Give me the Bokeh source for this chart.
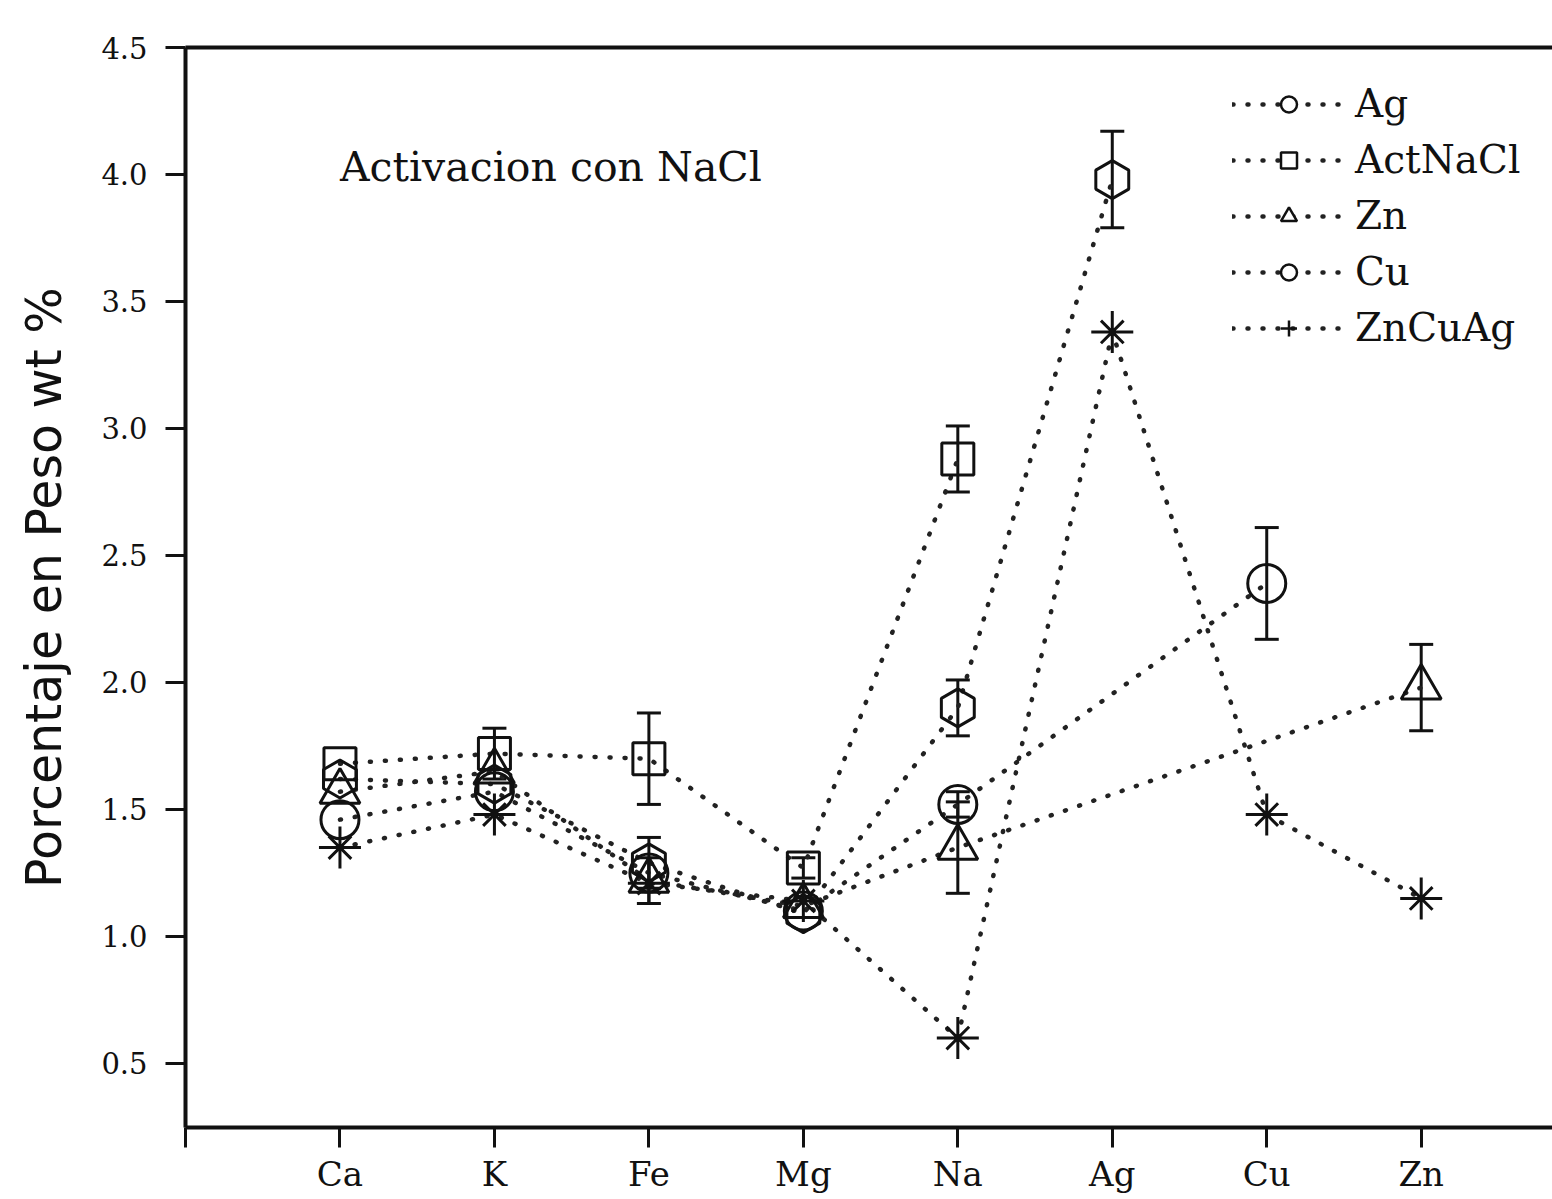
import math

from bokeh.plotting import figure
from bokeh.models import (ColumnDataSource, Whisker, TeeHead, Legend, LegendItem,
                          Label, LinearAxis, FixedTicker, Range1d, NumeralTickFormatter)
from bokeh.embed import file_html
from bokeh.resources import INLINE

elements = ["Ca", "K", "Fe", "Mg", "Na", "Ag", "Cu", "Zn"]

# Porcentaje en peso (wt %) per sample; None = element not reported
ag      = [1.62, 1.60, 1.29, 1.09, 1.90, 3.98, None, None]
actnacl = [1.68, 1.72, 1.70, 1.27, 2.88, None, None, None]
zn      = [1.57, 1.65, 1.22, 1.12, 1.35, None, None, 1.98]
cu      = [1.46, 1.57, 1.25, 1.10, 1.52, None, 2.39, None]
zncuag  = [1.35, 1.48, 1.21, 1.14, 0.60, 3.38, 1.48, 1.15]

# standard deviation (0 = no error bar)
ag_err      = [0, 0, 0.10, 0, 0.11, 0.19, 0, 0]
actnacl_err = [0, 0.10, 0.18, 0.04, 0.13, 0, 0, 0]
zn_err      = [0, 0, 0.09, 0, 0.18, 0, 0, 0.17]
cu_err      = [0, 0, 0, 0, 0.05, 0, 0.22, 0]
zncuag_err  = [0, 0, 0, 0, 0, 0, 0, 0]

series = [
    ("Ag", ag, ag_err, "hex", "circle"),
    ("ActNaCl", actnacl, actnacl_err, "square", "square"),
    ("Zn", zn, zn_err, "triangle", "triangle"),
    ("Cu", cu, cu_err, "circle", "circle"),
    ("ZnCuAg", zncuag, zncuag_err, "asterisk", "cross"),
]

y_ticks = [0.5, 1.0, 1.5, 2.0, 2.5, 3.0, 3.5, 4.0, 4.5]

SERIF = "DejaVu Serif"
INK = "#111111"

p = figure(width=1552, height=1199,
           x_range=Range1d(0, 8.85), y_range=Range1d(0.248, 4.5),
           output_backend="svg", toolbar_location=None,
           min_border_left=185, min_border_right=0,
           min_border_top=47, min_border_bottom=72)
p.grid.visible = False
p.outline_line_color = None
p.background_fill_color = "white"
p.border_fill_color = "white"

# x axis: one tick per element, plus the origin tick
xpos = list(range(len(elements) + 1))
xa = p.xaxis[0]
xa.ticker = FixedTicker(ticks=xpos)
xa.major_label_overrides = {0: ""} | {i + 1: e for i, e in enumerate(elements)}
xa.major_label_text_font = SERIF
xa.major_label_text_font_size = "34px"
xa.major_label_text_color = INK
xa.major_label_standoff = 6
xa.major_tick_out = 20
xa.major_tick_in = 0
xa.major_tick_line_width = 3
xa.minor_tick_line_color = None
xa.axis_line_width = 4
xa.axis_line_color = INK
xa.major_tick_line_color = INK

ya = p.yaxis[0]
ya.ticker = FixedTicker(ticks=y_ticks)
ya.formatter = NumeralTickFormatter(format="0.0")
ya.major_label_text_font = SERIF
ya.major_label_text_font_size = "29px"
ya.major_label_text_color = INK
ya.major_label_standoff = 18
ya.major_tick_out = 20
ya.major_tick_in = 0
ya.major_tick_line_width = 3
ya.minor_tick_line_color = None
ya.axis_line_width = 4
ya.axis_line_color = INK
ya.major_tick_line_color = INK
ya.axis_label = "Porcentaje en Peso wt %"
ya.axis_label_text_font = "DejaVu Sans"
ya.axis_label_text_font_style = "normal"
ya.axis_label_text_font_size = "49px"
ya.axis_label_text_color = INK
ya.axis_label_standoff = 25

# top frame edge
top = LinearAxis(ticker=FixedTicker(ticks=[]), axis_line_width=4, axis_line_color=INK,
                 major_tick_line_color=None, minor_tick_line_color=None,
                 major_label_text_font_size="0px")
p.add_layout(top, "above")

line_kw = dict(line_color="#222222", line_width=4.5, line_dash="1 14", line_cap="round")
mark_kw = dict(line_color=INK, line_width=3, fill_alpha=0)

line_renderers = []
for name, vals, errs, marker, leg_marker in series:
    xs = [i + 1 for i, v in enumerate(vals) if v is not None]
    ys = [v for v in vals if v is not None]
    src = ColumnDataSource(dict(x=xs, y=ys))
    lr = p.line("x", "y", source=src, **line_kw)
    line_renderers.append((name, lr, leg_marker))

for name, vals, errs, marker, leg_marker in series:
    xs = [i + 1 for i, v in enumerate(vals) if v is not None]
    ys = [v for v in vals if v is not None]
    src = ColumnDataSource(dict(x=xs, y=ys))
    if marker == "asterisk":
        p.scatter("x", "y", source=src, marker="x", size=32, **mark_kw)
        p.scatter("x", "y", source=src, marker="cross", size=42, **mark_kw)
        p.scatter("x", "y", source=src, marker="circle", size=7, fill_color=INK,
                  line_color=INK)
    elif marker == "hex":
        p.scatter("x", "y", source=src, marker="hex", size=38, angle=math.pi / 2,
                  **mark_kw)
    else:
        size = {"square": 32, "triangle": 40, "circle": 38}[marker]
        p.scatter("x", "y", source=src, marker=marker, size=size, **mark_kw)
    ex = [i + 1 for i, (v, e) in enumerate(zip(vals, errs)) if v is not None and e > 0]
    if ex:
        up = [vals[i - 1] + errs[i - 1] for i in ex]
        lo = [vals[i - 1] - errs[i - 1] for i in ex]
        esrc = ColumnDataSource(dict(x=ex, upper=up, lower=lo))
        p.add_layout(Whisker(source=esrc, base="x", upper="upper", lower="lower",
                             line_width=3, line_color=INK,
                             upper_head=TeeHead(size=24, line_width=3, line_color=INK),
                             lower_head=TeeHead(size=24, line_width=3, line_color=INK)))

# legend keys: a marker-only renderer per series (no plotted data)
legend_items = []
for name, lr, leg_marker in line_renderers:
    key = p.scatter(x=[math.nan], y=[math.nan], marker=leg_marker, line_color=INK,
                    line_width=2.5, fill_color="white", size=16)
    legend_items.append(LegendItem(label=name, renderers=[lr, key]))

legend = Legend(items=legend_items, location=(1047, 777),
                label_text_font=SERIF, label_text_font_size="39px",
                label_text_color=INK, glyph_width=113, glyph_height=40,
                label_height=40, spacing=11, label_standoff=10,
                margin=0, padding=10, background_fill_alpha=0,
                border_line_color=None)
p.add_layout(legend)

p.add_layout(Label(x=1, y=4.03, text="Activacion con NaCl", text_font=SERIF,
                   text_font_size="41px", text_color=INK, text_baseline="alphabetic"))

open("out.html", "w").write(file_html(p, INLINE))
